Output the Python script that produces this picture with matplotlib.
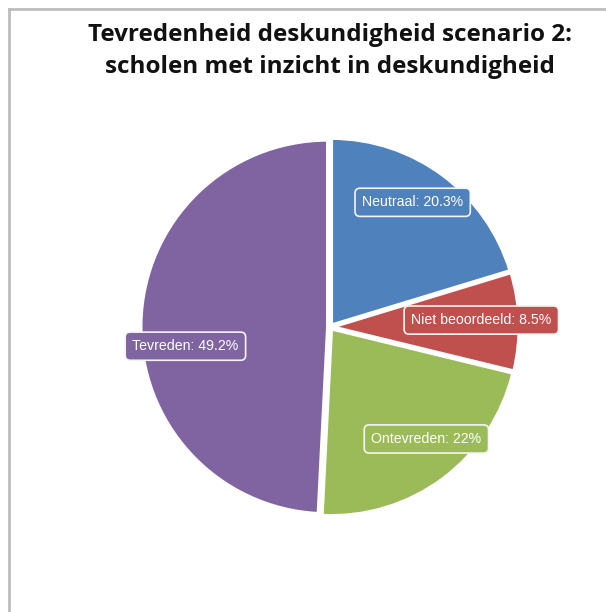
import matplotlib
matplotlib.use("Agg")
import matplotlib.pyplot as plt
import numpy as np

categories = ["Neutraal", "Niet beoordeeld", "Ontevreden", "Tevreden"]
values = [20.3, 8.5, 22.0, 49.2]
value_labels = ["20.3%", "8.5%", "22%", "49.2%"]
colors = ["#4F81BD", "#C0504D", "#9BBB59", "#8064A2"]
title = "Tevredenheid deskundigheid scenario 2:\nscholen met inzicht in deskundigheid"

W, H = 606, 612
fig = plt.figure(figsize=(W / 100, H / 100), dpi=100)
fig.patch.set_facecolor("white")

# frame lines (left and top)
fig.add_artist(plt.Line2D([8.5 / W, 8.5 / W], [0, 1 - 8.5 / H], transform=fig.transFigure,
                          color="#BDBDBD", lw=2.0))
fig.add_artist(plt.Line2D([8.5 / W, 1], [1 - 8.5 / H, 1 - 8.5 / H], transform=fig.transFigure,
                          color="#BDBDBD", lw=2.0))

fig.text(330 / W, 1 - 51 / H, title, ha="center", va="center", fontsize=17.5,
         fontweight="bold", family="Open Sans", linespacing=1.42, color="#111111")

cx, cy, R = 330, 327, 187
ax = fig.add_axes([(cx - R) / W, 1 - (cy + R) / H, 2 * R / W, 2 * R / H])
wedges, _ = ax.pie(values, colors=colors, startangle=90, counterclock=False,
                   explode=[0.012] * len(values),
                   wedgeprops=dict(edgecolor="white", linewidth=2.5))
ax.set_xlim(-1.0, 1.0)
ax.set_ylim(-1.0, 1.0)
ax.set_aspect("equal")
ax.axis("off")

label_r = [0.80, 0.81, 0.79, 0.78]
label_shift = [3, 1, 4, 9]  # degrees
for w, cat, lab, col, r, s in zip(wedges, categories, value_labels, colors, label_r, label_shift):
    mid = np.deg2rad((w.theta1 + w.theta2) / 2 + s)
    x, y = r * np.cos(mid), r * np.sin(mid)
    ax.text(x, y, f"{cat}: {lab}", ha="center", va="center", color="white",
            fontsize=10.2, family="Liberation Sans",
            bbox=dict(boxstyle="round,pad=0.5,rounding_size=0.35", fc=col, ec="#F4F4F4", lw=1.2))

fig.savefig("out.png", dpi=100, facecolor="white")
